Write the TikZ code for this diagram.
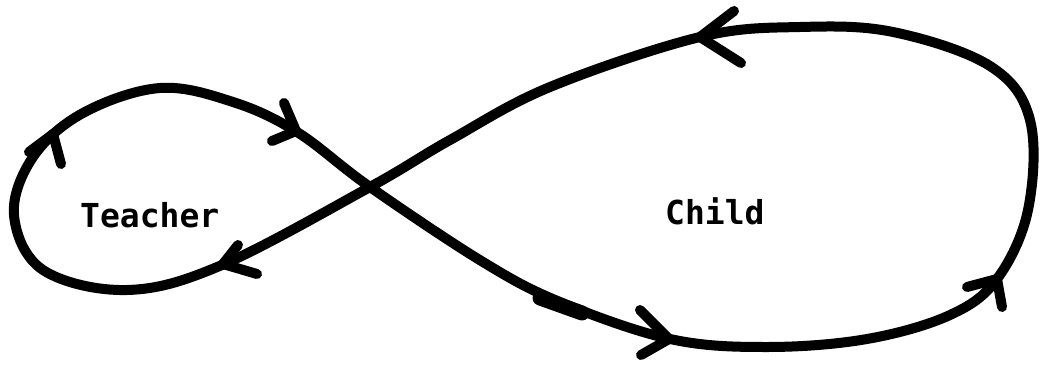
\documentclass[tikz,border=0pt]{standalone}
\usepackage{fontspec}
\newfontfamily\labelfont{DejaVu Sans Mono}
\begin{document}
\begin{tikzpicture}[x=1pt,y=-1pt,
  loopline/.style={line width=10pt,line cap=round,line join=round},
  chevron/.style={line width=10pt,line cap=round,line join=round},
  lbl/.style={font=\labelfont\bfseries\fontsize{33}{38}\selectfont,inner sep=0pt,anchor=base west}]
\useasboundingbox (0,0) rectangle (1041,364);
% figure-eight loop
\draw[loopline] plot[smooth cycle,tension=0.6] coordinates {
 (370,187) (483,262) (560,302) (670,339) (767,347) (867,339)
 (950,315) (997,279) (1028,210) (1030,120) (990,66) (893,32) (800,27)
 (700,37) (550,87) (450,140) (370,187)
 (222,265) (127,290) (43,270) (14,215) (33,157) (83,113) (160,88)
 (233,102) (297,132)};
% thicker stretch of the hand-drawn line
\draw[line width=15pt,line cap=round] (540,298) -- (582,313);
% arrowheads
\coordinate (t1) at (53,134); \coordinate (a1l) at (29,152); \coordinate (a1r) at (61,164);
\coordinate (t2) at (296,131); \coordinate (a2l) at (284,103); \coordinate (a2r) at (272,141);
\coordinate (t3) at (700,37); \coordinate (a3l) at (734,11); \coordinate (a3r) at (741,63);
\coordinate (t4) at (997,279); \coordinate (a4l) at (967,287); \coordinate (a4r) at (1002,307);
\coordinate (t5) at (669,339); \coordinate (a5l) at (640,310); \coordinate (a5r) at (641,355);
\coordinate (t6) at (223,264); \coordinate (a6l) at (238,245); \coordinate (a6r) at (257,274);
\draw[chevron] (a1l) -- (t1) -- (a1r);
\draw[chevron] (a2l) -- (t2) -- (a2r);
\draw[chevron] (a3l) -- (t3) -- (a3r);
\draw[chevron] (a4l) -- (t4) -- (a4r);
\draw[chevron] (a5l) -- (t5) -- (a5r);
\draw[chevron] (a6l) -- (t6) -- (a6r);
% labels
\node[lbl] (teacher) at (80,227) {Teacher};
\node[lbl] (child) at (665,224) {Child};
\end{tikzpicture}
\end{document}
